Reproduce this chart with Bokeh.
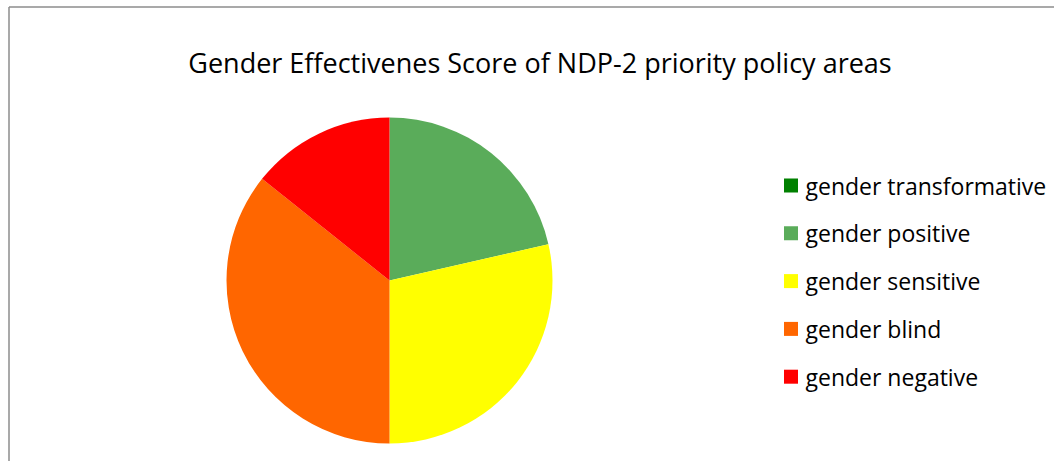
import math
from bokeh.plotting import figure
from bokeh.models import Range1d, ColumnDataSource
from bokeh.core.properties import value
from bokeh.embed import file_html
from bokeh.resources import INLINE

title = "Gender  Effectivenes Score of NDP-2 priority policy areas"
categories = ["gender transformative", "gender positive", "gender sensitive",
              "gender blind", "gender negative"]
counts = [0, 3, 4, 5, 2]
colors = ["#008000", "#5AAC5A", "#FFFF00", "#FF6600", "#FF0000"]

W, H = 1054, 461
p = figure(width=W, height=H, output_backend="svg", toolbar_location=None,
           x_range=Range1d(0, W), y_range=Range1d(0, H), min_border=0)
p.axis.visible = False
p.grid.visible = False
p.outline_line_color = None
p.background_fill_color = "white"
p.border_fill_color = "white"

def py(y):  # reference y -> data y
    return H - y

def px(x):
    return x

# border (left and top visible)
p.line([px(8.5), px(8.5)], [0, py(6.5)], line_color="#8C8C8C", line_width=1.5)
p.line([px(8.5), W], [py(6.5), py(6.5)], line_color="#8C8C8C", line_width=1.5)

# pie
total = sum(counts)
starts, ends, cols = [], [], []
cum = 0
for c, col in zip(counts, colors):
    if c > 0:
        starts.append(math.pi / 2 - 2 * math.pi * cum / total)
        ends.append(math.pi / 2 - 2 * math.pi * (cum + c) / total)
        cols.append(col)
    cum += c
src = ColumnDataSource(dict(start=starts, end=ends, color=cols))
p.wedge(x=px(389), y=py(280), radius=163, start_angle="start", end_angle="end",
        direction="clock", fill_color="color", line_color=None, source=src)

# title
p.text(x=[px(543)], y=[py(62)], text=[title], text_font=value("Open Sans"),
       text_font_size="27px", text_color="black", text_align="center",
       text_baseline="middle")

# legend
ys = [py(185 + 47.8 * i) for i in range(len(categories))]
p.rect(x=[px(790.5)] * len(categories), y=ys, width=14, height=14,
       fill_color=colors, line_color=None)
p.text(x=[px(805)] * len(categories), y=ys, text=categories,
       text_font=value("Open Sans"), text_font_size="23px", text_color="black",
       text_align="left", text_baseline="middle")

open("out.html", "w").write(file_html(p, INLINE))
